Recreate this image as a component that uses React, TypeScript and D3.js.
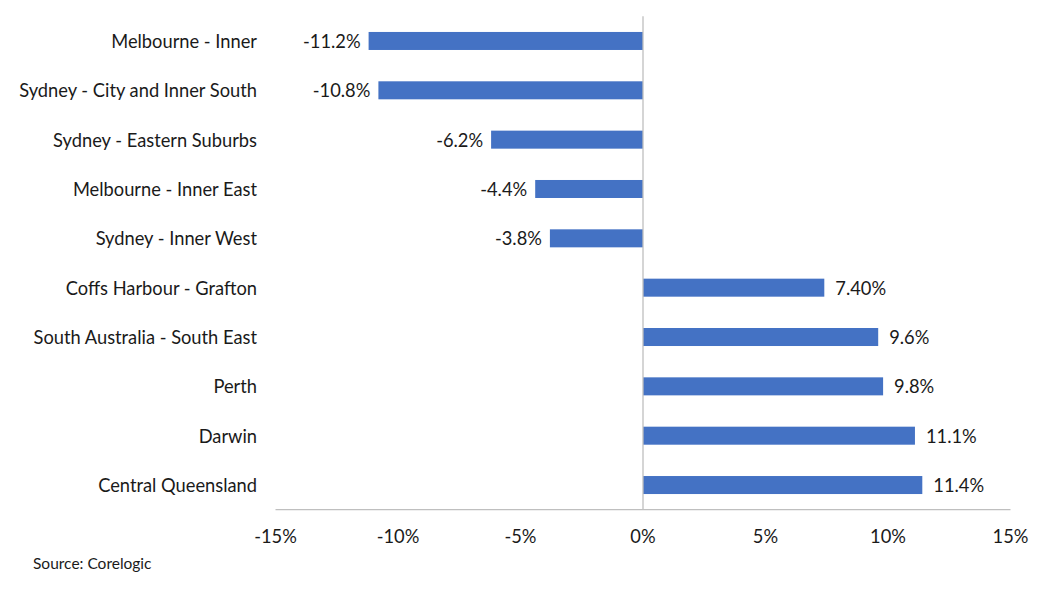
import React from "react";
import * as d3 from "d3";

const categories = [
  "Melbourne - Inner",
  "Sydney - City and Inner South",
  "Sydney - Eastern Suburbs",
  "Melbourne - Inner East",
  "Sydney - Inner West",
  "Coffs Harbour - Grafton",
  "South Australia - South East",
  "Perth",
  "Darwin",
  "Central Queensland",
];
const values = [-11.2, -10.8, -6.2, -4.4, -3.8, 7.4, 9.6, 9.8, 11.1, 11.4];
const valueLabels = ["-11.2%", "-10.8%", "-6.2%", "-4.4%", "-3.8%", "7.40%", "9.6%", "9.8%", "11.1%", "11.4%"];
const ticks = [-15, -10, -5, 0, 5, 10, 15];
const source = "Source: Corelogic";

const W = 1038;
const H = 589;
const FONT = "Lato, 'Open Sans', sans-serif";
const FS = 18.3;

export default function App() {
  const x = d3.scaleLinear().domain([-15, 15]).range([275.5, 1010.5]);
  const y = d3.scaleBand<string>().domain(categories).range([16.3, 509.7]).paddingInner(0.635).paddingOuter(0.3175);
  const bh = y.bandwidth();
  const axisY = 509.7;
  return (
    <svg width={W} height={H} style={{ position: "absolute", left: 0, top: 0, background: "#fff" }}>
      <rect width={W} height={H} fill="#fff" />
      <line x1={x(-15)} x2={x(15)} y1={axisY} y2={axisY} stroke="#bfbfbf" strokeWidth={1.3} />
      {categories.map((c, i) => {
        const v = values[i];
        const y0 = y(c)!;
        const x0 = Math.min(x(0), x(v));
        const w = Math.abs(x(v) - x(0));
        const neg = v < 0;
        return (
          <g key={c}>
            <rect x={x0} y={y0} width={w} height={bh} fill="#4472C4" />
            <text
              x={257}
              y={y0 + bh / 2}
              textAnchor="end"
              dominantBaseline="central"
              fontFamily={FONT}
              fontSize={FS}
              fill="#1a1a1a"
            >
              {c}
            </text>
            <text
              x={neg ? x(v) - 8 : x(v) + 11}
              y={y0 + bh / 2}
              textAnchor={neg ? "end" : "start"}
              dominantBaseline="central"
              fontFamily={FONT}
              fontSize={FS}
              fill="#1a1a1a"
            >
              {valueLabels[i]}
            </text>
          </g>
        );
      })}
      <line x1={x(0)} x2={x(0)} y1={16.3} y2={axisY} stroke="#bfbfbf" strokeWidth={1.3} />
      {ticks.map((t) => (
        <text
          key={t}
          x={x(t)}
          y={536}
          textAnchor="middle"
          dominantBaseline="central"
          fontFamily={FONT}
          fontSize={FS}
          fill="#1a1a1a"
        >
          {`${t}%`}
        </text>
      ))}
      <text x={33} y={563} dominantBaseline="central" fontFamily={FONT} fontSize={15.5} fill="#1a1a1a">
        {source}
      </text>
    </svg>
  );
}
